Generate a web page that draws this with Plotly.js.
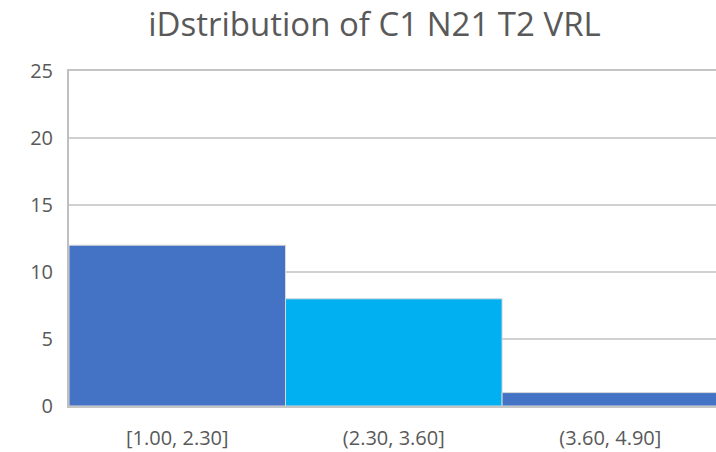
<!DOCTYPE html>
<html>
<head>
<meta charset="utf-8">
<script src="https://cdn.plot.ly/plotly-3.0.1.min.js"></script>
<style>html,body{margin:0;padding:0;background:#fff;}#chart{width:716px;height:452px;}</style>
</head>
<body>
<div id="chart"></div>
<script>
const categories = ["[1.00, 2.30]", "(2.30, 3.60]", "(3.60, 4.90]"];
const counts = [12, 8, 1];
const barColors = ["#4472C4", "#00B0F0", "#4472C4"];
const yTicks = [0, 5, 10, 15, 20, 25];
const titleText = "iDstribution of C1 N21 T2 VRL";

const font = "Open Sans, Lato, sans-serif";
Plotly.newPlot("chart", [{
  type: "bar",
  x: categories,
  y: counts,
  marker: {color: barColors, line: {color: "#d9d9d9", width: 1}},
  hoverinfo: "x+y"
}], {
  width: 716, height: 452,
  margin: {l: 69, r: 0, t: 71, b: 46, pad: 0},
  paper_bgcolor: "#fff", plot_bgcolor: "#fff",
  bargap: 0,
  showlegend: false,
  title: {text: titleText, font: {family: font, size: 33, color: "#595959"},
          x: 0.523, xref: "container", xanchor: "center", y: 0.947, yref: "container", yanchor: "middle"},
  xaxis: {type: "category", range: [-0.5, 2.488], showgrid: false, zeroline: false,
          showline: true, mirror: true, linecolor: "#c4c4c4", linewidth: 2, ticks: "",
          tickfont: {family: font, size: 20, color: "#595959"}, ticklabelstandoff: 13},
  yaxis: {range: [0, 25], tickvals: yTicks, showgrid: true, gridcolor: "#d0d0d0", gridwidth: 2,
          zeroline: false, showline: true, linecolor: "#bfbfbf", linewidth: 2, ticks: "",
          tickfont: {family: font, size: 20, color: "#595959"}, ticklabelstandoff: 10}
}, {displayModeBar: false, staticPlot: true});
</script>
</body>
</html>
